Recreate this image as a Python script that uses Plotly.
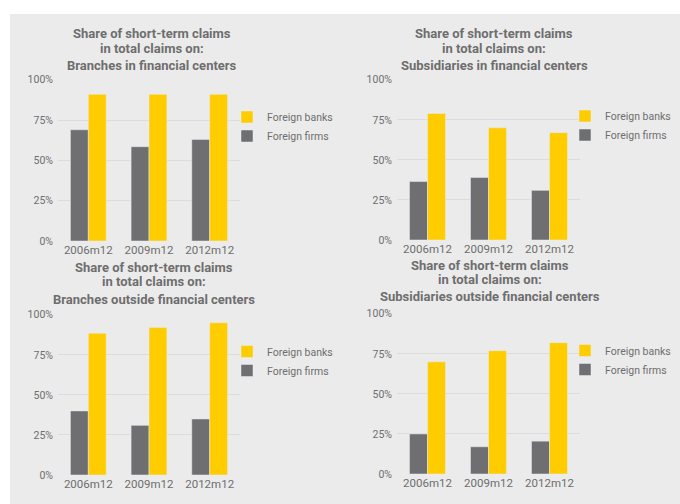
import plotly.graph_objects as go

categories = ["2006m12", "2009m12", "2012m12"]
series_names = ["Foreign firms", "Foreign banks"]

titles = [
    "Branches in financial centers",
    "Subsidiaries in financial centers",
    "Branches outside financial centers",
    "Subsidiaries outside financial centers",
]
title_top = ["Share of short-term claims", "in total claims on:"]

p1_firms = [69, 58.5, 63]
p1_banks = [91, 91, 91]
p2_firms = [36.5, 39, 31]
p2_banks = [79, 70, 67]
p3_firms = [40, 31, 35]
p3_banks = [88.5, 92, 95]
p4_firms = [25, 17, 20.5]
p4_banks = [70, 77, 82]

y_ticks = [0, 25, 50, 75, 100]
y_ticklabels = ["0%", "25%", "50%", "75%", "100%"]

W, H = 680, 504
GRAY = "#6f6f71"
YELLOW = "#ffcc00"
TEXT = "#6e6e6e"
BG = "#ebebeb"
GRID = "#dcdcdc"

panels = [
    dict(firms=p1_firms, banks=p1_banks, x=(58, 240), y=(241, 79), tx=152, ty=(34, 48, 66), leg=(227, 126.5)),
    dict(firms=p2_firms, banks=p2_banks, x=(397, 580), y=(240, 79), tx=494, ty=(34, 48, 66), leg=(565, 125.5)),
    dict(firms=p3_firms, banks=p3_banks, x=(58, 240), y=(475, 314), tx=154, ty=(267, 281, 299), leg=(227, 361)),
    dict(firms=p4_firms, banks=p4_banks, x=(397, 580), y=(474, 313), tx=490, ty=(265, 279, 296), leg=(565, 360)),
]

fig = go.Figure()
layout = {}
annotations = []
for i, p in enumerate(panels):
    n = "" if i == 0 else str(i + 1)
    leg = "legend" + n
    fig.add_trace(go.Bar(x=categories, y=p["firms"], name=series_names[0], marker_color=GRAY,
                         xaxis="x" + n, yaxis="y" + n, legend=leg, hoverinfo="x+y"))
    fig.add_trace(go.Bar(x=categories, y=p["banks"], name=series_names[1], marker_color=YELLOW,
                         xaxis="x" + n, yaxis="y" + n, legend=leg, hoverinfo="x+y"))
    layout["xaxis" + n] = dict(domain=[p["x"][0] / W, p["x"][1] / W], anchor="y" + n,
                               showgrid=False, showline=False, ticks="", ticklen=0, zeroline=False,
                               automargin=False,
                               tickfont=dict(family="Roboto", size=11.5, color=TEXT))
    layout["yaxis" + n] = dict(domain=[(H - p["y"][0]) / H, (H - p["y"][1]) / H], anchor="x" + n,
                               range=[0, 100.5], tickvals=y_ticks, ticktext=y_ticklabels,
                               showgrid=True, gridcolor=GRID, gridwidth=1, zeroline=False,
                               showline=False, ticks="", ticklen=0, ticklabelstandoff=4,
                               automargin=False,
                               tickfont=dict(family="Roboto", size=10.5, color=TEXT))
    layout[leg] = dict(x=p["leg"][0] / W, y=(H - p["leg"][1]) / H, xanchor="left", yanchor="middle",
                       bgcolor="rgba(0,0,0,0)", traceorder="reversed", borderwidth=0,
                       font=dict(family="Roboto", size=10.5, color=TEXT), tracegroupgap=0)
    lines = title_top + [titles[i]]
    for t, yy in zip(lines, p["ty"]):
        annotations.append(dict(text="<b>" + t + "</b>", x=p["tx"] / W, y=(H - yy) / H,
                                xref="paper", yref="paper", xanchor="center", yanchor="middle",
                                showarrow=False, font=dict(family="Roboto", size=13, color=TEXT)))

fig.update_layout(
    width=W, height=H, margin=dict(l=0, r=0, t=0, b=0, pad=0, autoexpand=False),
    paper_bgcolor="white", plot_bgcolor="rgba(0,0,0,0)",
    barmode="group", bargap=0.41, bargroupgap=0,
    annotations=annotations,
    shapes=[dict(type="rect", xref="paper", yref="paper", x0=10 / W, x1=1, y0=0, y1=(H - 14) / H,
                 fillcolor=BG, line=dict(width=0), layer="below")],
    **layout,
)

fig.write_html("out.html", config={"displayModeBar": False},
               post_script="document.body.style.margin='0';")
